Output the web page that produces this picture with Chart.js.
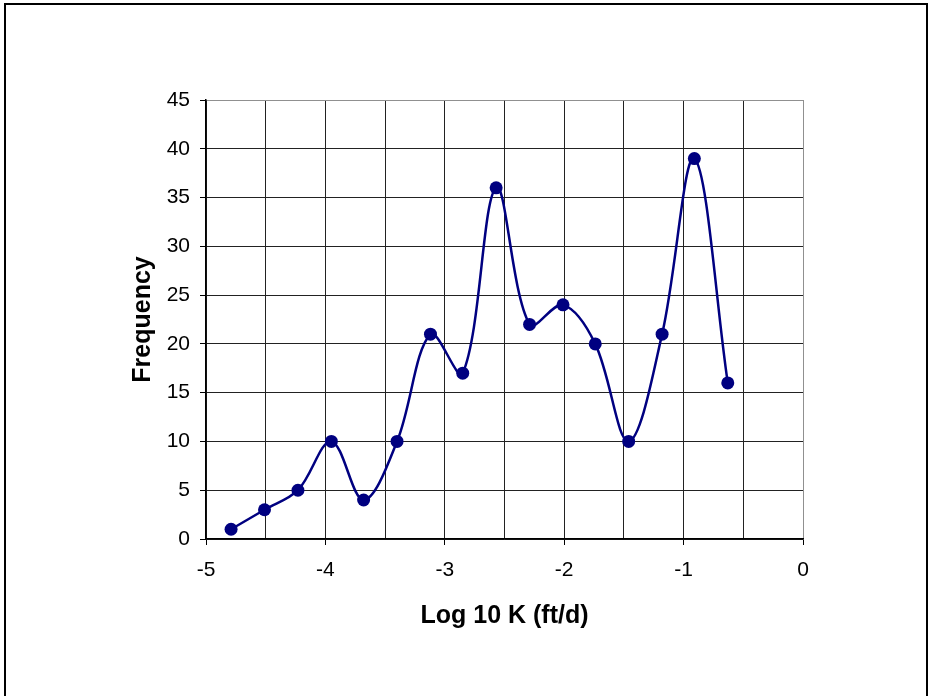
<!DOCTYPE html>
<html>
<head>
<meta charset="utf-8">
<script src="https://cdn.jsdelivr.net/npm/chart.js@4/dist/chart.umd.min.js"></script>
<style>
    html, body { margin: 0; padding: 0; background: #fff; }
    #wrap { width: 928px; height: 696px; }
</style>
</head>
<body>
<div id="wrap"><canvas id="chart" width="928" height="696"></canvas></div>
<script>
// Log10 K bin positions and their frequencies
var logK = [-4.79, -4.51, -4.23, -3.95, -3.68, -3.40, -3.12, -2.85, -2.57, -2.29, -2.01, -1.74, -1.46, -1.18, -0.91, -0.63];
var frequency = [1, 3, 5, 10, 4, 10, 21, 17, 36, 22, 24, 20, 10, 21, 39, 16];

var xTitle = "Log 10 K (ft/d)";
var yTitle = "Frequency";

var points = [];
for (var i = 0; i < logK.length; i++) {
    points.push({ x: logK[i], y: frequency[i] });
}

function isWhole(v) {
    return Math.abs(v - Math.round(v)) < 1e-6;
}

// Outer frame round the whole chart object
var framePlugin = {
    id: "frame",
    afterDraw: function (chart) {
        var ctx = chart.ctx;
        ctx.save();
        ctx.strokeStyle = "#000";
        ctx.lineWidth = 2;
        ctx.strokeRect(5, 4, 922, 760);
        ctx.restore();
    }
};

var tickFont = { family: "'Liberation Sans', Arial, sans-serif", size: 21 };
var titleFont = { family: "'Liberation Sans', Arial, sans-serif", size: 25, weight: "bold" };

new Chart(document.getElementById("chart"), {
    type: "scatter",
    data: {
        datasets: [{
            data: points,
            showLine: true,
            borderColor: "#000080",
            backgroundColor: "#000080",
            borderWidth: 2.5,
            tension: 0.35,
            pointRadius: 6.5,
            pointHoverRadius: 6.5,
            pointBorderWidth: 0
        }]
    },
    options: {
        responsive: false,
        animation: false,
        plugins: {
            legend: { display: false },
            tooltip: { enabled: false }
        },
        layout: {
            padding: { left: 128, top: 100, right: 125, bottom: 65 }
        },
        scales: {
            x: {
                type: "linear",
                min: -5,
                max: 0,
                afterFit: function (scale) { scale.height = 92; },
                ticks: {
                    stepSize: 0.5,
                    autoSkip: false,
                    maxRotation: 0,
                    padding: 13,
                    color: "#000",
                    font: tickFont,
                    callback: function (v) { return isWhole(v) ? String(Math.round(v)) : ""; }
                },
                grid: {
                    color: function (c) { return c.tick && c.tick.value === 0 ? "#909090" : "#222"; },
                    tickLength: 6,
                    tickColor: function (c) { return c.tick && isWhole(c.tick.value) ? "#000" : "rgba(0,0,0,0)"; }
                },
                border: { color: "#000", width: 1.5 },
                title: {
                    display: true,
                    text: xTitle,
                    color: "#000",
                    font: titleFont,
                    padding: 0
                }
            },
            y: {
                min: 0,
                max: 45,
                afterFit: function (scale) { scale.width = 78; },
                ticks: {
                    stepSize: 5,
                    padding: 10,
                    color: "#000",
                    font: tickFont
                },
                grid: {
                    color: function (c) { return c.tick && c.tick.value === 45 ? "#909090" : "#222"; },
                    tickLength: 6,
                    tickColor: "#000"
                },
                border: { color: "#000", width: 1.5 },
                title: {
                    display: true,
                    text: yTitle,
                    color: "#000",
                    font: titleFont,
                    padding: 0
                }
            }
        }
    },
    plugins: [framePlugin]
});
</script>
</body>
</html>
